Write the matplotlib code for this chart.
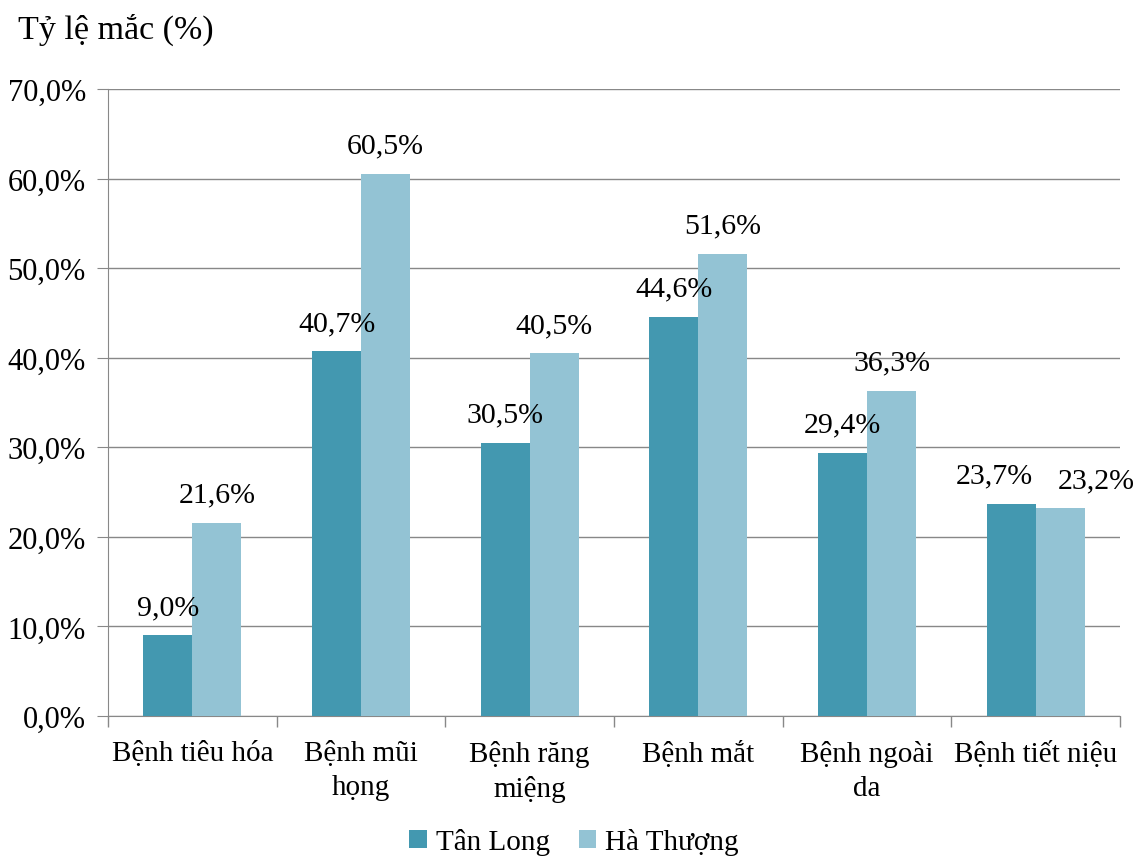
import numpy as np
import matplotlib.pyplot as plt
from matplotlib.ticker import FuncFormatter

plt.rcParams['font.family'] = ['Liberation Serif', 'DejaVu Serif']

categories = ['Bệnh tiêu hóa', 'Bệnh mũi\nhọng', 'Bệnh răng\nmiệng',
              'Bệnh mắt', 'Bệnh ngoài\nda', 'Bệnh tiết niệu']
tan_long = [9.0, 40.7, 30.5, 44.6, 29.4, 23.7]
ha_thuong = [21.6, 60.5, 40.5, 51.6, 36.3, 23.2]
series_names = ['Tân Long', 'Hà Thượng']
colors = ['#4398b0', '#93c3d4']
# horizontal nudge (points) of the value labels so the last pair doesn't collide
label_shift = [[0, 0, 0, 0, 0, -12], [0, 0, 0, 0, 0, 26]]

fig = plt.figure(figsize=(11.44, 8.62), dpi=100)
ax = fig.add_axes([108 / 1144, 1 - 717 / 862, (1120 - 108) / 1144, (717 - 90) / 862])

x = np.arange(len(categories))
w = 0.29
for i, (vals, name, c) in enumerate(zip([tan_long, ha_thuong], series_names, colors)):
    pos = x + (i - 0.5) * w
    ax.bar(pos, vals, width=w, color=c, label=name, zorder=3)
    for p, v, dx in zip(pos, vals, label_shift[i]):
        ax.annotate(f'{v:.1f}%'.replace('.', ','), (p, v), xytext=(dx, 11),
                    textcoords='offset points', ha='center', va='bottom',
                    fontsize=21.5, zorder=4, annotation_clip=False)

ax.set_xlim(-0.5, len(categories) - 0.5)
ax.set_ylim(0, 70)
ax.set_yticks(np.arange(0, 71, 10))
ax.yaxis.set_major_formatter(FuncFormatter(lambda v, _: f'{v:.1f}%'.replace('.', ',')))
ax.set_xticks(x)
ax.set_xticklabels(categories, fontsize=21, linespacing=1.38)
ax.set_xticks(np.arange(-0.5, len(categories)), minor=True)
ax.tick_params(axis='x', which='major', length=0, pad=17.5)
ax.tick_params(axis='x', which='minor', length=8, color='#888888', width=1)
ax.tick_params(axis='y', length=8, color='#888888', labelsize=22, pad=8)

ax.grid(axis='y', color='#888888', linewidth=1, zorder=0)
for s in ['top', 'right']:
    ax.spines[s].set_visible(False)
for s in ['left', 'bottom']:
    ax.spines[s].set_color('#888888')

fig.text(18 / 1144, 1 - 30 / 862, 'Tỷ lệ mắc (%)', fontsize=24.5, va='center', ha='left')

fig.legend(loc='center', bbox_to_anchor=(574 / 1144, 1 - 843 / 862), ncol=2, frameon=False,
           fontsize=21, handlelength=0.6, handleheight=0.6, handletextpad=0.3,
           columnspacing=1.0)

fig.savefig('out.png', dpi=100)
